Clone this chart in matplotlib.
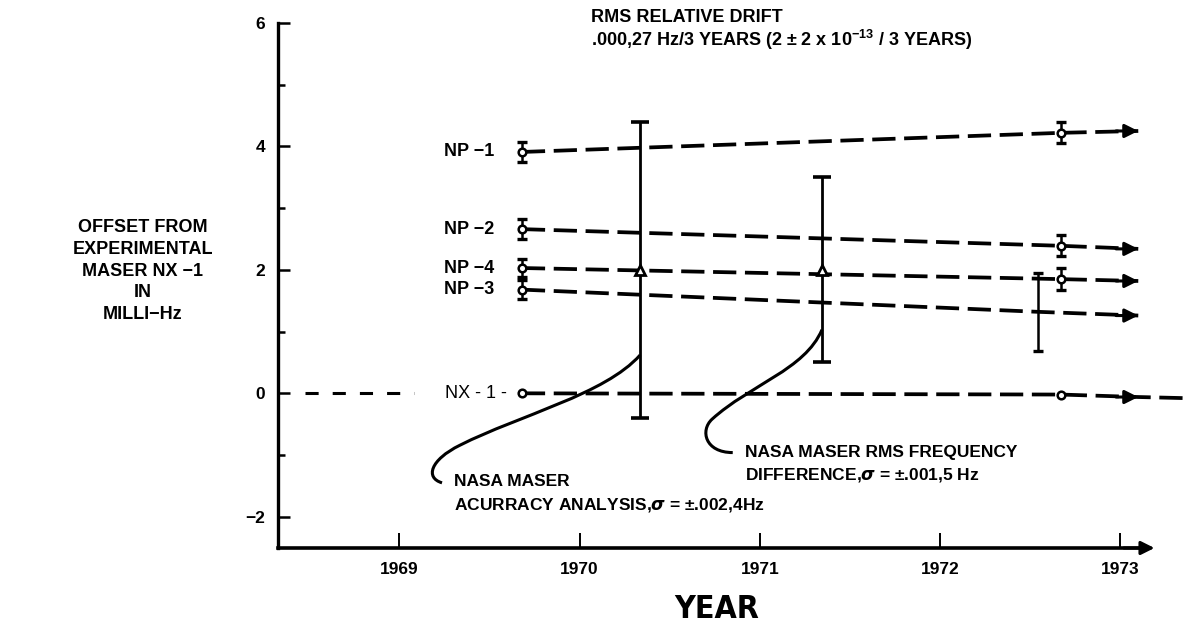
import matplotlib.pyplot as plt
from matplotlib.path import Path
from matplotlib.patches import PathPatch

plt.rcParams['font.family'] = ['Liberation Sans', 'DejaVu Sans']
plt.rcParams['font.weight'] = 'bold'
plt.rcParams['mathtext.fontset'] = 'custom'
plt.rcParams['mathtext.rm'] = 'Liberation Sans:bold'
plt.rcParams['mathtext.bf'] = 'Liberation Sans:bold'

# NP masers: offset from NX-1 in milli-Hz
np_names = ['NP \u22121', 'NP \u22122', 'NP \u22124', 'NP \u22123']
start_year = 1969.68
start_val = [3.91, 2.66, 2.03, 1.68]
start_err = [0.16, 0.16, 0.15, 0.15]
end_year = [1972.67, 1972.67, 1972.67, 1972.545]
end_val = [4.22, 2.39, 1.85, 1.32]
end_err = [0.17, 0.17, 0.18, 0.63]
arrow_year = 1973.1
arrow_val = [4.25, 2.34, 1.82, 1.26]

# reference maser NX-1
nx_years = [1969.68, 1972.67]
nx_val = [0.0, -0.02]
nx_arrow_val = -0.06
nx_tail_val = -0.08

# NASA maser comparisons
nasa_years = [1970.335, 1971.345]
nasa_val = [2.0, 2.0]
nasa_err = [2.4, 1.5]

year_ticks = [1969, 1970, 1971, 1972, 1973]
offset_ticks = [-2, 0, 2, 4, 6]
offset_minor = [-1, 1, 3, 5]

XMIN, XMAX = 1968.327, 1973.387
YMIN, YMAX = -2.506, 6.21
DASH = (6.2, 2.3)

fig = plt.figure(figsize=(11.9, 6.26), dpi=100)
ax = fig.add_axes([278 / 1190, 78 / 626, 912 / 1190, 538 / 626])
ax.set_xlim(XMIN, XMAX)
ax.set_ylim(YMIN, YMAX)

for s in ['top', 'right']:
    ax.spines[s].set_visible(False)
ax.spines['left'].set_bounds(YMIN, 6.0)
ax.spines['bottom'].set_bounds(XMIN, 1973.15)
ax.spines['left'].set_linewidth(2.4)
ax.spines['bottom'].set_linewidth(2.6)

ax.set_xticks(year_ticks)
ax.set_xticklabels([str(y) for y in year_ticks])
ax.set_yticks(offset_ticks)
ax.set_yticklabels([str(v).replace('-', '\u2212') for v in offset_ticks])
ax.set_yticks(offset_minor, minor=True)
ax.tick_params(axis='x', direction='in', length=11, width=1.4, pad=10, labelsize=12.5)
ax.tick_params(axis='y', which='major', direction='in', length=8.5, width=1.8, pad=9,
               labelsize=12.5)
ax.tick_params(axis='y', which='minor', direction='in', length=5, width=1.8)

ax.annotate('', xy=(1973.19, YMIN), xytext=(-22, 0), textcoords='offset points',
            arrowprops=dict(arrowstyle='-|>', mutation_scale=20, color='black', lw=2.2,
                            shrinkA=0, shrinkB=0), annotation_clip=False)

# NP drift lines
for i in range(len(np_names)):
    ax.plot([start_year, end_year[i], arrow_year], [start_val[i], end_val[i], arrow_val[i]],
            color='black', lw=2.7, dashes=DASH, zorder=2)
    ax.annotate('', xy=(arrow_year, arrow_val[i]), xytext=(-16, 0), textcoords='offset points',
                arrowprops=dict(arrowstyle='-|>', mutation_scale=20, color='black', lw=2.2,
                                shrinkA=0, shrinkB=0))
    ax.errorbar([start_year], [start_val[i]], yerr=[start_err[i]], fmt='none', ecolor='black',
                elinewidth=1.8, capsize=3.6, capthick=2.4, zorder=3)
    ax.errorbar([end_year[i]], [end_val[i]], yerr=[end_err[i]], fmt='none', ecolor='black',
                elinewidth=1.8, capsize=3.6, capthick=2.4, zorder=3)
    ax.text(start_year - 0.155, start_val[i], np_names[i], ha='right', va='center', fontsize=13)

ax.plot([start_year] * 4, start_val, 'o', ms=5.5, mfc='white', mec='black', mew=1.8, zorder=4)
ax.plot(end_year[:3], end_val[:3], 'o', ms=5.5, mfc='white', mec='black', mew=1.8, zorder=4)

# NX-1 reference line
ax.plot([1968.477, 1969.08], [0, 0], color='black', lw=2.2, dashes=(4.3, 4.6), clip_on=False)
ax.plot(nx_years + [arrow_year, XMAX], nx_val + [nx_arrow_val, nx_tail_val],
        color='black', lw=2.7, dashes=DASH, zorder=2)
ax.annotate('', xy=(arrow_year, nx_arrow_val), xytext=(-16, 0), textcoords='offset points',
            arrowprops=dict(arrowstyle='-|>', mutation_scale=20, color='black', lw=2.2,
                            shrinkA=0, shrinkB=0))
ax.plot(nx_years, nx_val, 'o', ms=5.5, mfc='white', mec='black', mew=1.8, zorder=4)
ax.text(nx_years[0] - 0.083, 0, 'NX - 1 -', ha='right', va='center', fontsize=13,
        fontweight='normal')

# NASA maser error bars
ax.errorbar(nasa_years, nasa_val, yerr=nasa_err, fmt='none', ecolor='black',
            elinewidth=2.0, capsize=6.8, capthick=2.6, zorder=3)
ax.plot(nasa_years, nasa_val, '^', ms=6.5, mfc='white', mec='black', mew=2.0, zorder=4)

# leader curves to the annotations
curves = [
    [(1970.336, 0.62), (1970.141, -0.02), (1969.67, -0.35), (1969.337, -0.84),
     (1969.17, -1.08), (1969.143, -1.37), (1969.237, -1.45)],
    [(1971.345, 1.03), (1971.25, 0.38), (1970.946, 0.14), (1970.735, -0.42),
     (1970.668, -0.60), (1970.696, -0.96), (1970.85, -0.96)],
]
codes = [Path.MOVETO] + [Path.CURVE4] * 6
for pts in curves:
    ax.add_patch(PathPatch(Path(pts, codes), fill=False, lw=2.2, edgecolor='black',
                           clip_on=False, zorder=3))


def fx(px):
    return px / 1190


def fy(py):
    return 1 - py / 626


fig.text(fx(454), fy(482), 'NASA MASER', ha='left', va='center', fontsize=12.5)
fig.text(fx(454), fy(505), 'ACURRACY ANALYSIS,$\\sigma$ = \u00b1.002,4Hz', ha='left',
         va='center', fontsize=12.5)
fig.text(fx(745), fy(453), 'NASA MASER RMS FREQUENCY', ha='left', va='center', fontsize=12.5)
fig.text(fx(745), fy(475), 'DIFFERENCE,$\\sigma$ = \u00b1.001,5 Hz', ha='left', va='center',
         fontsize=12.5)

fig.text(fx(591), fy(18), 'RMS RELATIVE DRIFT', ha='left', va='center', fontsize=13)
fig.text(fx(591), fy(40), '.000,27 Hz/3 YEARS (2 \u00b1 2 x 10$^{-13}$ / 3 YEARS)',
         ha='left', va='center', fontsize=13)

fig.text(fx(143), fy(271),
         'OFFSET FROM\nEXPERIMENTAL\nMASER NX \u22121\nIN\nMILLI\u2212Hz',
         ha='center', va='center', fontsize=13, linespacing=1.35)

fig.text(fx(717), fy(610), 'YEAR', ha='center', va='center', fontsize=23,
         family=['Liberation Sans Narrow', 'DejaVu Sans'], stretch='condensed',
         fontweight='bold')

fig.savefig('out.png', dpi=100)
